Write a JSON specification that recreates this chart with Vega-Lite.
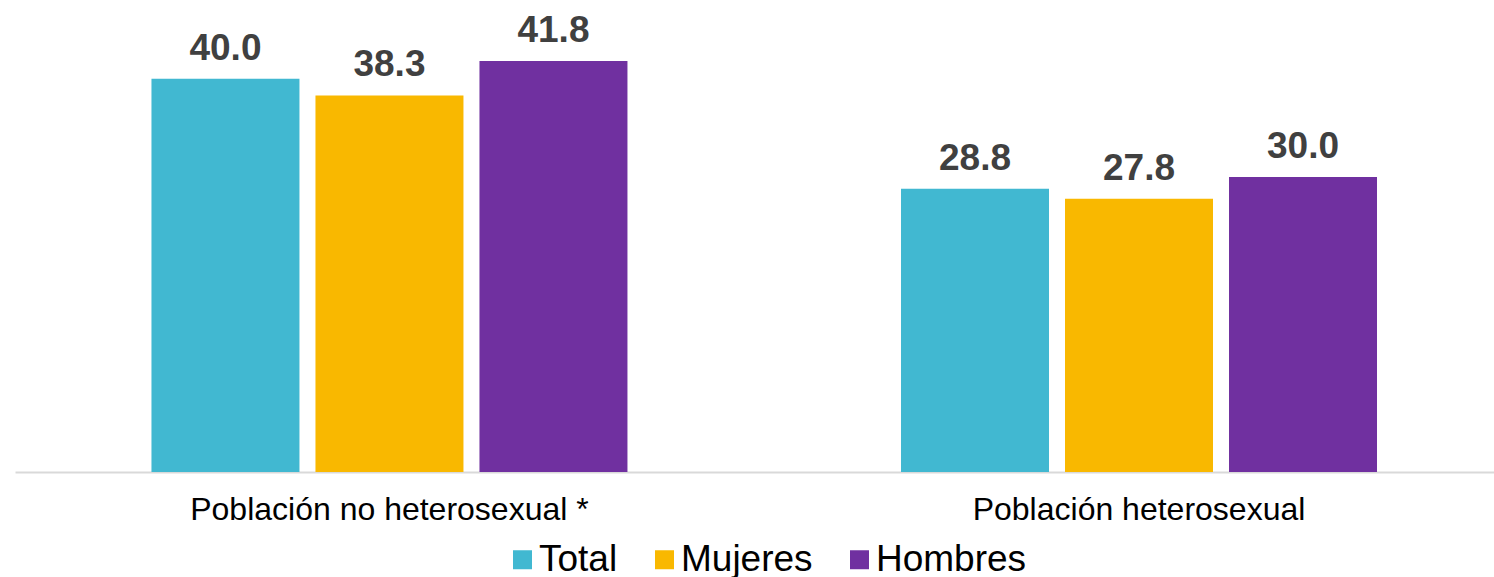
{
  "$schema": "https://vega.github.io/schema/vega-lite/v6.json",
  "width": 1479,
  "height": 472,
  "autosize": {"type": "none"},
  "padding": {"left": 15, "top": 0, "right": 0, "bottom": 105},
  "background": "white",
  "config": {"view": {"stroke": null}, "font": "Liberation Sans"},
  "data": {
    "values": [
      {"grupo": "Población no heterosexual *", "sexo": "Total", "valor": 40.0},
      {"grupo": "Población no heterosexual *", "sexo": "Mujeres", "valor": 38.3},
      {"grupo": "Población no heterosexual *", "sexo": "Hombres", "valor": 41.8},
      {"grupo": "Población heterosexual", "sexo": "Total", "valor": 28.8},
      {"grupo": "Población heterosexual", "sexo": "Mujeres", "valor": 27.8},
      {"grupo": "Población heterosexual", "sexo": "Hombres", "valor": 30.0}
    ]
  },
  "encoding": {
    "x": {
      "field": "grupo", "type": "nominal", "sort": null, "title": null,
      "scale": {"paddingInner": 0.3436, "paddingOuter": 0.1584, "align": 0.541},
      "axis": {"labelAngle": 0, "labelFontSize": 32, "labelColor": "#000000", "ticks": false, "labelLimit": 0,
               "domainColor": "#D9D9D9", "domainWidth": 2, "labelPadding": 22, "labelFont": "Liberation Sans"}
    },
    "xOffset": {"field": "sexo", "type": "nominal", "sort": ["Total", "Mujeres", "Hombres"],
                "scale": {"paddingInner": 0.0976, "paddingOuter": 0.0488}},
    "y": {"field": "valor", "type": "quantitative", "scale": {"domain": [0, 48], "nice": false}, "axis": null}
  },
  "layer": [
    {
      "mark": {"type": "bar"},
      "encoding": {
        "color": {
          "field": "sexo", "type": "nominal", "sort": ["Total", "Mujeres", "Hombres"],
          "scale": {"domain": ["Total", "Mujeres", "Hombres"], "range": ["#41B8D1", "#F9B800", "#7030A0"]},
          "legend": {
            "title": null, "orient": "none", "direction": "horizontal", "legendX": 489, "legendY": 541,
            "symbolType": "square", "symbolSize": 361, "symbolStrokeWidth": 0, "symbolOpacity": 1,
            "labelFontSize": 37, "labelColor": "#000000", "labelOffset": -2, "columnPadding": 28,
            "labelFont": "Liberation Sans", "labelLimit": 0
          }
        }
      }
    },
    {
      "mark": {"type": "text", "dy": -19, "baseline": "alphabetic", "fontSize": 37, "fontWeight": "bold", "color": "#404040", "font": "Liberation Sans"},
      "encoding": {"text": {"field": "valor", "type": "quantitative", "format": ".1f"}}
    }
  ]
}
